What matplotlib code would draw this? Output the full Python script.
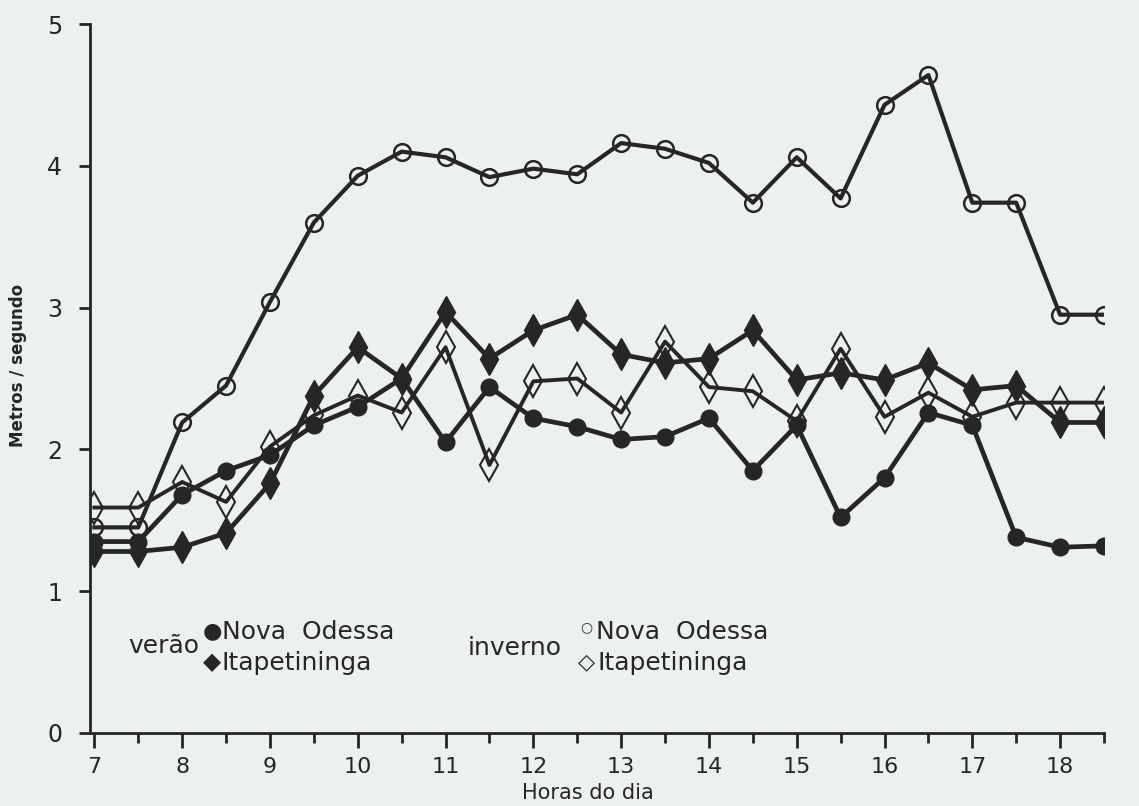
import matplotlib
matplotlib.use("Agg")
import matplotlib.pyplot as plt
from matplotlib.ticker import MultipleLocator

# Velocidade do vento (m/s) ao longo do dia, de meia em meia hora
horas = [7, 7.5, 8, 8.5, 9, 9.5, 10, 10.5, 11, 11.5, 12, 12.5,
         13, 13.5, 14, 14.5, 15, 15.5, 16, 16.5, 17, 17.5, 18, 18.5]
verao_nova_odessa = [1.35, 1.35, 1.68, 1.85, 1.96, 2.17, 2.30, 2.50, 2.05, 2.44, 2.22, 2.16,
                     2.07, 2.09, 2.22, 1.85, 2.17, 1.52, 1.80, 2.26, 2.17, 1.38, 1.31, 1.32]
verao_itapetininga = [1.28, 1.28, 1.31, 1.41, 1.76, 2.38, 2.72, 2.50, 2.97, 2.64, 2.84, 2.95,
                      2.67, 2.61, 2.64, 2.84, 2.49, 2.54, 2.49, 2.61, 2.42, 2.45, 2.19, 2.19]
inverno_nova_odessa = [1.45, 1.45, 2.19, 2.45, 3.04, 3.60, 3.93, 4.10, 4.06, 3.92, 3.98, 3.94,
                       4.16, 4.12, 4.02, 3.74, 4.06, 3.77, 4.43, 4.64, 3.74, 3.74, 2.95, 2.95]
inverno_itapetininga = [1.59, 1.59, 1.77, 1.63, 2.02, 2.24, 2.38, 2.26, 2.72, 1.89, 2.48, 2.50,
                        2.26, 2.76, 2.44, 2.41, 2.20, 2.71, 2.23, 2.40, 2.23, 2.33, 2.33, 2.33]
x_ticks = [7, 8, 9, 10, 11, 12, 13, 14, 15, 16, 17, 18]
y_ticks = [0, 1, 2, 3, 4, 5]

ink = '#262624'
bg = '#edf1ee'

fig = plt.figure(figsize=(11.39, 8.06), dpi=100, facecolor=bg)
ax = fig.add_axes([90/1139, 1-733/806, (1104-90)/1139, (733-24)/806])
ax.set_facecolor(bg)

ax.plot(horas, inverno_nova_odessa, color=ink, lw=3, marker='o', ms=12,
        mfc='none', mec=ink, mew=1.8)
ax.plot(horas, inverno_itapetininga, color=ink, lw=2.8, marker='d', ms=16,
        mfc='none', mec=ink, mew=1.5)
ax.plot(horas, verao_itapetininga, color=ink, lw=3.4, marker='d', ms=16,
        mfc=ink, mec=ink)
ax.plot(horas, verao_nova_odessa, color=ink, lw=3.4, marker='o', ms=12,
        mfc=ink, mec=ink)

ax.set_xlim(6.95, 18.5)
ax.set_ylim(0, 5)
ax.set_xticks(x_ticks)
ax.xaxis.set_minor_locator(MultipleLocator(0.5))
ax.set_yticks(y_ticks)
ax.spines['top'].set_visible(False)
ax.spines['right'].set_visible(False)
for s in ['left', 'bottom']:
    ax.spines[s].set_linewidth(2)
    ax.spines[s].set_color(ink)
ax.tick_params(axis='x', which='major', length=11, width=2, labelsize=16,
               colors=ink, pad=6)
ax.tick_params(axis='x', which='minor', length=7, width=2, colors=ink)
ax.tick_params(axis='y', which='major', length=8, width=2, labelsize=17,
               colors=ink, pad=12)

fig.text(588/1139, 1-793/806, "Horas do dia", fontsize=15, color=ink,
         ha='center', va='center')
fig.text(18/1139, 1-365/806, "Metros / segundo", rotation=90, fontsize=12,
         fontweight='bold', color=ink, ha='center', va='center')

# legenda escrita à mão, como no original
def ftext(px, py, s, **kw):
    fig.text(px/1139, 1-py/806, s, color=ink, va='center', **kw)

ftext(128, 646, "verão", fontsize=18)
ftext(203, 631, "●", fontsize=16)
ftext(222, 632, "Nova  Odessa", fontsize=18)
ftext(203, 662, "◆", fontsize=17)
ftext(222, 663, "Itapetininga", fontsize=18)
ftext(468, 648, "inverno", fontsize=18)
ftext(580, 627, "○", fontsize=10)
ftext(596, 632, "Nova  Odessa", fontsize=18)
ftext(578, 662, "◇", fontsize=16)
ftext(598, 663, "Itapetininga", fontsize=18)

fig.savefig("out.png", dpi=100, facecolor=bg)
